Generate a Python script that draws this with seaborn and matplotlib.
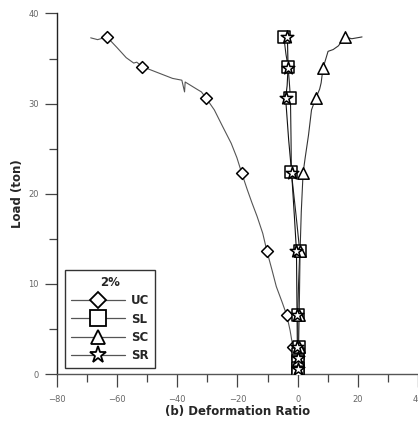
import numpy as np
import pandas as pd
import matplotlib
matplotlib.use('Agg')
import matplotlib.pyplot as plt
import seaborn as sns
from matplotlib.lines import Line2D
from matplotlib.ticker import MultipleLocator

# 하중-변형비 곡선 (2%)
sns.set_style("ticks")
plt.rcParams['font.family'] = ['DejaVu Sans']

# UC 곡선
uc_x = [-68.8, -66.5, -63.4, -60.0, -57.0, -54.5, -53.5, -51.6, -47.0, -41.6, -38.5, -37.6,
        -37.4, -33.5, -32.0, -30.4, -27.7, -25.0, -22.1, -20.2, -18.6, -16.8, -15.2, -13.5,
        -11.6, -10.2, -8.5, -7.1, -5.2, -3.6, -2.5, -1.6, -1.0, -0.6, -0.4]
uc_y = [37.3, 37.1, 37.4, 36.2, 35.1, 34.5, 34.6, 34.1, 33.5, 32.8, 32.6, 31.3,
        32.4, 31.6, 31.3, 30.6, 29.3, 27.5, 25.6, 24.0, 22.3, 20.5, 19.0, 17.5,
        15.6, 13.6, 11.5, 9.7, 8.0, 6.5, 4.8, 3.0, 1.5, 0.5, 0.0]
uc_mx = [-63.4, -51.6, -30.4, -18.6, -10.2, -3.6, -1.6]
uc_my = [37.4, 34.1, 30.6, 22.3, 13.6, 6.5, 3.0]

# SL 곡선
sl_x = [-4.6, -3.9, -3.2, -2.8, -2.4, -2.2, -2.1, -0.5, 0.7, 0.3, 0.0, 0.3, 0.2, 0.1]
sl_y = [37.4, 35.5, 34.1, 32.5, 30.6, 26.0, 22.4, 17.5, 13.6, 10.0, 6.5, 3.0, 1.5, 0.0]
sl_mx = [-4.6, -3.2, -2.4, -2.1, 0.7, 0.0, 0.3, 0.2, 0.2, 0.1, 0.1]
sl_my = [37.4, 34.1, 30.6, 22.4, 13.6, 6.5, 3.0, 2.2, 1.4, 0.7, 0.1]

# SC 곡선
sc_x = [21.4, 18.0, 15.8, 13.5, 11.8, 10.1, 8.4, 7.8, 7.3, 6.0, 4.6, 3.6, 2.5, 1.8,
        1.2, 0.8, 0.5, 0.3, 0.2]
sc_y = [37.4, 37.2, 37.4, 36.4, 36.0, 35.8, 33.9, 32.3, 31.6, 30.6, 29.3, 26.5, 24.0, 22.3,
        18.0, 13.6, 6.5, 3.0, 0.0]
sc_mx = [15.8, 8.4, 6.0, 1.8, 0.8, 0.5, 0.3, 0.2, 0.2]
sc_my = [37.4, 33.9, 30.6, 22.3, 13.6, 6.5, 3.0, 1.5, 0.3]

# SR 곡선
sr_x = [-3.4, -3.2, -3.5, -4.0, -3.0, -2.0, -1.0, -0.4, -0.2, -0.1, 0.0]
sr_y = [37.4, 34.0, 32.0, 30.6, 26.0, 22.3, 17.0, 13.6, 6.5, 3.0, 0.0]
sr_mx = [-3.4, -3.2, -4.0, -2.0, -0.4, -0.2, -0.1, 0.0, 0.0]
sr_my = [37.4, 34.0, 30.6, 22.3, 13.6, 6.5, 3.0, 1.8, 0.6]

series = [
    ('UC', uc_x, uc_y, uc_mx, uc_my, 'D', 6.0, '#555555'),
    ('SL', sl_x, sl_y, sl_mx, sl_my, 's', 8.6, '#222222'),
    ('SC', sc_x, sc_y, sc_mx, sc_my, '^', 8.2, '#333333'),
    ('SR', sr_x, sr_y, sr_mx, sr_my, '*', 9.5, '#111111'),
]

fig = plt.figure(figsize=(4.18, 4.24), dpi=100)
ax = fig.add_axes([57 / 418, 1 - 374 / 424, 1 - 57 / 418, (374 - 13.5) / 424])

handles = []
for name, lx, ly, mx, my, mk, ms, lc in series:
    line_df = pd.DataFrame({'x': lx, 'y': ly})
    sns.lineplot(data=line_df, x='x', y='y', sort=False, estimator=None,
                 color=lc, linewidth=0.8, ax=ax)
    mark_df = pd.DataFrame({'x': mx, 'y': my})
    sns.scatterplot(data=mark_df, x='x', y='y', marker=mk, s=ms ** 2,
                    facecolor='white', edgecolor='black', linewidth=1.1, ax=ax, zorder=3)
    handles.append(Line2D([0], [0], color='#555555', linewidth=0.9, marker=mk,
                          markersize=ms * 1.3, markerfacecolor='white',
                          markeredgecolor='black', markeredgewidth=1.3, label=name))

ax.set_xlim(-80, 40)
ax.set_ylim(0, 40)
ax.xaxis.set_major_locator(MultipleLocator(20))
ax.xaxis.set_minor_locator(MultipleLocator(10))
ax.yaxis.set_major_locator(MultipleLocator(10))
ax.yaxis.set_minor_locator(MultipleLocator(5))
ax.tick_params(which='major', length=9, width=0.9, color='#444444',
               labelsize=6, labelcolor='#666666', pad=4)
ax.tick_params(axis='x', which='major', pad=6)
ax.tick_params(which='minor', length=5.5, width=0.9, color='#444444')

sns.despine(ax=ax)
ax.spines['left'].set_color('#222222')
ax.spines['bottom'].set_color('#555555')
ax.spines['left'].set_linewidth(1.0)
ax.spines['bottom'].set_linewidth(1.0)

ax.set_xlabel('(b) Deformation Ratio', fontsize=8.5, fontweight='bold', labelpad=1)
ax.set_ylabel('Load (ton)', fontsize=8.5, fontweight='bold', labelpad=3)

leg = ax.legend(handles=handles, title='2%', loc='lower left',
                bbox_to_anchor=(0.005, 0.0), prop={'weight': 'bold', 'size': 8.5},
                title_fontproperties={'weight': 'bold', 'size': 8.5},
                handlelength=4.6, handletextpad=0.5, labelspacing=0.45,
                borderpad=0.5, fancybox=False, framealpha=1)
leg.get_frame().set_edgecolor('#333333')
leg.get_frame().set_linewidth(1.0)

fig.savefig('out.png', dpi=100)
